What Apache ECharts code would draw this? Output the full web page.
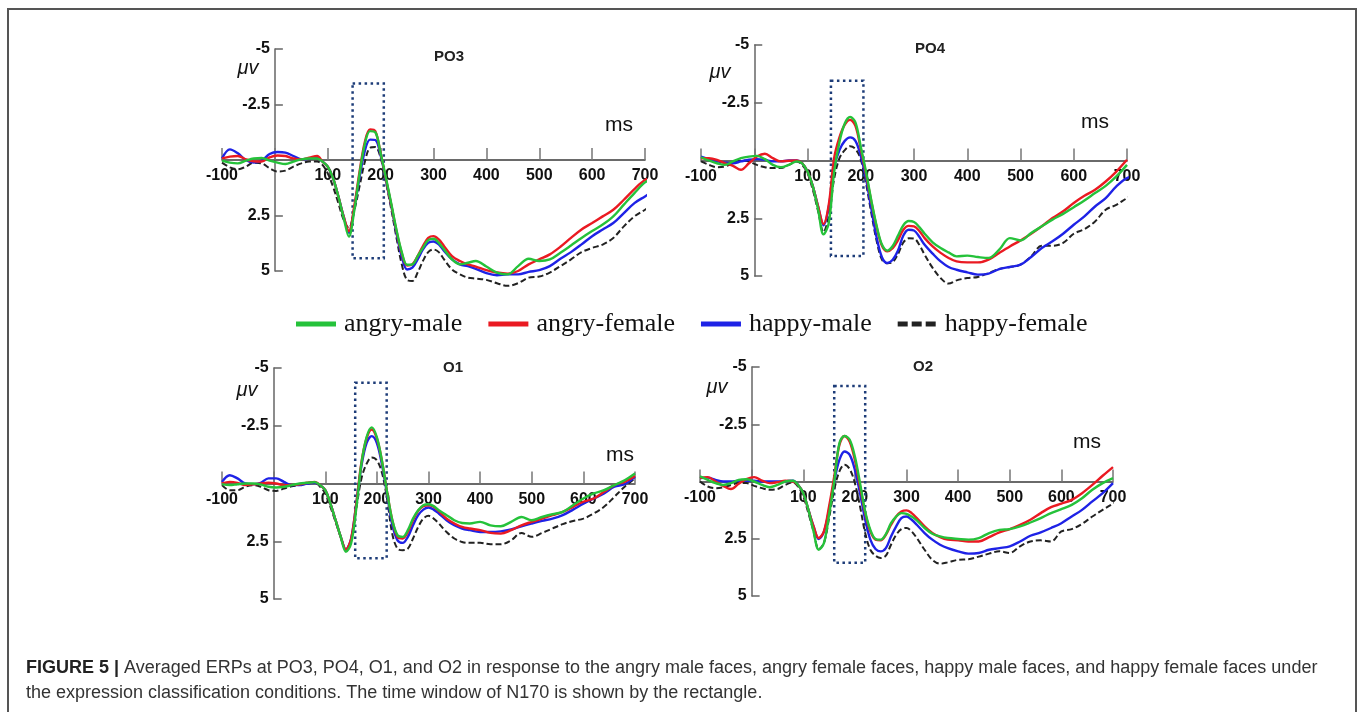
<!DOCTYPE html>
<html>
<head>
<meta charset="utf-8">
<title>Averaged ERPs</title>
<script src="https://cdn.jsdelivr.net/npm/echarts@6/dist/echarts.min.js"></script>
<style>
  html, body { margin: 0; padding: 0; background: #fff; }
  #main { width: 1358px; height: 712px; }
</style>
</head>
<body>
<div id="main"></div>
<script>
// sample times in ms (same for every channel)
const times = [-100, -85, -70, -55, -40, -25, -10, 5, 20, 35, 50, 65, 80,
  90, 100, 110, 120, 130, 140, 150, 160, 170, 180, 190, 200, 210, 220, 230, 240, 250, 260, 270, 280, 290, 300, 310, 320,
  335, 350, 365, 380,
  400, 420, 440, 460, 480, 500, 520, 540, 560, 580, 600, 620, 640, 660, 680, 700, 720];

// amplitudes in µV (negative is drawn up)
const po3Green = [0.03, 0.12, 0.15, 0.03, -0.07, -0.09, 0.03, 0.12, 0.18, 0.07, -0.03, -0.07, -0.07,
  0.07, 0.3, 0.82, 1.64, 2.6, 3.45, 2.3, 0.65, -0.7, -1.3, -1.25, -0.3, 0.8, 1.95, 3.15, 4.15, 4.72, 4.7, 4.33, 3.96, 3.61, 3.55, 3.73, 4.03,
  4.48, 4.7, 4.63, 4.55,
  4.8, 5.07, 5.15, 4.78, 4.45, 4.55, 4.48, 4.18, 3.85, 3.51, 3.2, 2.91, 2.54, 2.01, 1.49, 1.01, 0.75];
const po3Red = [-0.07, -0.15, -0.18, -0.03, 0.06, 0.07, -0.12, -0.2, -0.18, -0.07, -0.03, -0.1, -0.18,
  0.07, 0.3, 0.82, 1.64, 2.54, 3.2, 2.1, 0.55, -0.8, -1.38, -1.3, -0.3, 0.85, 2.0, 3.2, 4.2, 4.75, 4.7, 4.33, 3.88, 3.51, 3.43, 3.58, 3.88,
  4.33, 4.55, 4.7, 4.8,
  4.96, 5.07, 5.12, 5.0, 4.7, 4.48, 4.25, 3.91, 3.51, 3.13, 2.84, 2.54, 2.24, 1.79, 1.31, 0.9, 0.75];
const po3Blue = [-0.07, -0.48, -0.3, 0, 0.12, 0.03, -0.27, -0.36, -0.33, -0.18, -0.03, -0.06, -0.09,
  0.07, 0.3, 0.82, 1.64, 2.54, 3.28, 2.2, 0.8, -0.4, -0.92, -0.9, -0.2, 0.9, 2.05, 3.3, 4.35, 4.93, 4.85, 4.48, 4.03, 3.73, 3.67, 3.8, 4.1,
  4.48, 4.7, 4.78, 4.9,
  5.1, 5.19, 5.15, 5.15, 5.04, 4.96, 4.78, 4.45, 4.15, 3.8, 3.43, 3.13, 2.84, 2.39, 1.94, 1.64, 1.34];
const po3Black = [0.12, 0.33, 0.42, 0.3, 0.12, 0.15, 0.37, 0.52, 0.48, 0.3, 0.15, 0.07, 0.07,
  0.22, 0.6, 1.2, 1.94, 2.69, 3.06, 2.3, 1.2, 0.1, -0.55, -0.58, -0.1, 1.0, 2.2, 3.5, 4.7, 5.4, 5.45, 5.07, 4.55, 4.15, 4.03, 4.15, 4.48,
  4.93, 5.15, 5.3, 5.34,
  5.4, 5.55, 5.67, 5.55, 5.3, 5.25, 5.07, 4.78, 4.48, 4.15, 3.96, 3.81, 3.51, 2.99, 2.54, 2.24, 1.94];

const po4Green = [-0.14, 0, 0.12, 0.19, 0.04, -0.1, -0.17, -0.2, -0.06, 0.19, 0.29, 0.19, 0.04,
  0.12, 0.48, 1.12, 2.13, 3.2, 2.7, 0.5, -0.8, -1.6, -1.88, -1.65, -0.6, 0.5, 1.75, 2.85, 3.65, 3.9, 3.7, 3.25, 2.8, 2.62, 2.66, 2.88, 3.17,
  3.54, 3.79, 3.98, 4.15,
  4.12, 4.18, 4.22, 3.86, 3.36, 3.46, 3.14, 2.85, 2.56, 2.31, 2.02, 1.73, 1.41, 1.1, 0.69, 0.19, null];
const po4Red = [-0.1, -0.1, -0.03, 0.12, 0.23, 0.4, 0.12, -0.17, -0.29, -0.1, 0.04, 0.01, 0,
  0.12, 0.48, 1.12, 2.0, 2.75, 1.9, -0.1, -1.0, -1.55, -1.76, -1.5, -0.5, 0.6, 1.8, 2.9, 3.7, 3.93, 3.8, 3.45, 3.0, 2.83, 2.85, 3.05, 3.36,
  3.72, 4.0, 4.22, 4.37,
  4.41, 4.41, 4.29, 4.0, 3.72, 3.46, 3.17, 2.85, 2.49, 2.2, 1.84, 1.53, 1.27, 0.91, 0.48, -0.03, null];
const po4Blue = [-0.17, -0.06, 0.04, 0.09, 0.12, 0.04, -0.03, -0.06, -0.03, 0.04, 0.04, 0, 0,
  0.12, 0.48, 1.12, 2.0, 2.8, 2.0, 0.3, -0.45, -0.85, -1.0, -0.85, -0.2, 0.8, 2.1, 3.35, 4.2, 4.44, 4.3, 3.9, 3.25, 3.0, 3.03, 3.3, 3.65,
  4.03, 4.37, 4.61, 4.73,
  4.84, 4.94, 4.9, 4.7, 4.61, 4.51, 4.18, 3.79, 3.5, 3.17, 2.78, 2.42, 1.99, 1.63, 1.12, 0.76, 0.69];
const po4Black = [0.04, 0.19, 0.29, 0.26, 0.12, 0, 0.04, 0.19, 0.29, 0.33, 0.33, 0.19, 0.04,
  0.19, 0.55, 1.27, 2.2, 3.1, 2.4, 0.8, -0.1, -0.45, -0.62, -0.5, -0.05, 1.0, 2.3, 3.5, 4.3, 4.45, 4.4, 4.05, 3.55, 3.37, 3.38, 3.65, 4.08,
  4.65, 5.09, 5.33, 5.19,
  5.09, 5.04, 4.87, 4.7, 4.61, 4.51, 4.15, 3.69, 3.69, 3.57, 3.17, 2.97, 2.64, 2.13, 1.92, 1.63, 1.41];

const o1Green = [0.03, 0.07, 0.03, 0, 0, 0.04, 0.14, 0.17, 0.14, 0.07, 0, -0.03, -0.06,
  0.07, 0.29, 0.87, 1.59, 2.31, 2.96, 2.6, 1.1, -0.85, -2.0, -2.43, -2.0, -0.95, 0.4, 1.6, 2.24, 2.31, 2.02, 1.52, 1.16, 0.94, 0.9, 0.98, 1.16,
  1.37, 1.59, 1.71, 1.73,
  1.66, 1.81, 1.85, 1.66, 1.45, 1.59, 1.45, 1.33, 1.23, 0.94, 0.65, 0.43, 0.29, 0.07, -0.14, -0.43, null];
const o1Red = [0, -0.07, -0.03, 0.07, 0.04, 0, -0.03, 0, 0.07, 0.06, 0.03, -0.03, -0.07,
  0.07, 0.29, 0.87, 1.59, 2.31, 2.86, 2.4, 0.9, -0.9, -1.95, -2.34, -1.95, -0.95, 0.4, 1.6, 2.31, 2.38, 2.1, 1.59, 1.18, 0.98, 0.94, 1.01, 1.2,
  1.52, 1.73, 1.88, 1.95,
  2.02, 2.14, 2.17, 2.02, 1.81, 1.66, 1.52, 1.37, 1.23, 1.01, 0.79, 0.65, 0.36, 0.07, -0.07, -0.32, null];
const o1Blue = [-0.07, -0.36, -0.22, 0, 0.03, -0.03, -0.22, -0.22, -0.07, 0.07, 0.07, 0, -0.03,
  0.07, 0.29, 0.87, 1.59, 2.31, 2.86, 2.4, 0.9, -0.75, -1.75, -2.05, -1.75, -0.8, 0.5, 1.8, 2.46, 2.57, 2.31, 1.81, 1.37, 1.13, 1.04, 1.13, 1.3,
  1.59, 1.81, 1.95, 2.02,
  2.1, 2.1, 2.07, 1.99, 1.85, 1.73, 1.62, 1.52, 1.37, 1.13, 0.87, 0.65, 0.43, 0.14, 0.03, -0.29, null];
const o1Black = [0.07, 0.29, 0.29, 0.14, 0.07, 0.14, 0.29, 0.32, 0.22, 0.12, 0.07, 0, -0.03,
  0.14, 0.43, 1.01, 1.66, 2.31, 2.86, 2.45, 1.1, -0.2, -0.85, -1.13, -1.0, -0.45, 0.7, 2.2, 2.82, 2.89, 2.82, 2.38, 1.88, 1.52, 1.4, 1.52, 1.73,
  2.1, 2.38, 2.53, 2.57,
  2.57, 2.63, 2.63, 2.46, 2.14, 2.31, 2.14, 1.95, 1.76, 1.62, 1.52, 1.3, 1.01, 0.58, 0.14, -0.22, null];

const o2Green = [-0.22, -0.07, 0.07, 0.15, 0.07, -0.07, -0.1, 0, 0.15, 0.25, 0.15, 0, -0.03,
  0.15, 0.51, 1.24, 2.18, 2.98, 2.69, 1.45, 0, -1.67, -1.99, -1.82, -1.09, 0.07, 1.31, 2.11, 2.51, 2.54, 2.3, 1.82, 1.53, 1.38, 1.41, 1.53, 1.7,
  2.03, 2.28, 2.4, 2.47,
  2.51, 2.54, 2.47, 2.25, 2.11, 2.08, 1.96, 1.79, 1.6, 1.38, 1.21, 1.02, 0.73, 0.36, 0.07, -0.15, null];
const o2Red = [-0.15, -0.19, 0, 0.19, 0.33, 0.1, -0.1, -0.19, -0.04, 0.07, 0.03, -0.03, 0,
  0.15, 0.51, 1.24, 1.96, 2.47, 2.18, 1.09, -0.22, -1.6, -1.99, -1.74, -0.94, 0.22, 1.38, 2.18, 2.54, 2.57, 2.33, 1.89, 1.53, 1.31, 1.26, 1.38, 1.6,
  1.96, 2.25, 2.43, 2.54,
  2.57, 2.62, 2.62, 2.43, 2.22, 2.08, 1.89, 1.67, 1.38, 1.12, 0.97, 0.8, 0.51, 0.15, -0.25, -0.63, null];
const o2Blue = [-0.15, -0.17, -0.07, 0, 0, -0.03, -0.03, -0.03, 0, 0, 0, -0.01, -0.03,
  0.15, 0.51, 1.24, 1.96, 2.51, 2.2, 1.24, 0, -0.94, -1.31, -1.16, -0.51, 0.51, 1.67, 2.54, 2.95, 3.05, 2.91, 2.4, 1.96, 1.6, 1.53, 1.67, 1.89,
  2.25, 2.54, 2.76, 2.91,
  3.05, 3.15, 3.12, 2.98, 2.91, 2.83, 2.62, 2.37, 2.22, 2.03, 1.82, 1.53, 1.24, 0.87, 0.51, 0.07, null];
const o2Black = [0, 0.22, 0.29, 0.25, 0.15, 0.07, 0.07, 0.19, 0.29, 0.36, 0.33, 0.15, 0.04,
  0.22, 0.65, 1.38, 2.18, 2.95, 2.69, 1.6, 0.36, -0.44, -0.73, -0.54, 0.07, 1.09, 2.25, 2.98, 3.24, 3.34, 3.24, 2.76, 2.33, 2.08, 2.03, 2.18, 2.47,
  2.98, 3.42, 3.59, 3.53,
  3.42, 3.4, 3.28, 3.15, 3.05, 3.12, 2.83, 2.62, 2.57, 2.62, 2.18, 2.08, 1.85, 1.53, 1.24, 0.97, 0.77];

const channels = ['PO3', 'PO4', 'O1', 'O2'];
const conditions = ['angry-male', 'angry-female', 'happy-male', 'happy-female'];
const xTickLabels = [-100, 100, 200, 300, 400, 500, 600, 700];
const yTickLabels = [-5, -2.5, 2.5, 5];
// N170 window drawn as the dotted rectangle: [ms start, µV top, ms end, µV bottom]
const n170Boxes = [[147, -3.45, 206, 4.43], [144, -3.45, 205, 4.13], [158, -4.36, 219, 3.24], [160, -4.17, 220, 3.55]];

// per channel: [angry-male, angry-female, happy-male, happy-female]
const waves = [
  [po3Green, po3Red, po3Blue, po3Black],
  [po4Green, po4Red, po4Blue, po4Black],
  [o1Green, o1Red, o1Blue, o1Black],
  [o2Green, o2Red, o2Blue, o2Black]
];

const colors = ['#25c23a', '#ea1a22', '#1e22e6', '#222222'];

// layout of the four panels (pixels)
const grids = [
  {left: 222, top: 49, width: 423, height: 222},
  {left: 701, top: 45, width: 426, height: 231},
  {left: 222, top: 368, width: 413, height: 231},
  {left: 700, top: 367, width: 413, height: 229}
];
const titlePos = [[449, 57], [930, 49], [453, 368], [923, 367]];
const unitPos = [[248, 68], [720, 72], [247, 390], [717, 387]];
const msPos = [[619, 125], [1095, 122], [620, 455], [1087, 442]];

const tickFont = "'Liberation Sans', Arial, sans-serif";

const myChart = echarts.init(document.getElementById('main'));

let xAxes = [], yAxes = [], series = [], graphics = [];

grids.forEach(function (g, p) {
  // the time axis sits on 0 µV, the amplitude axis on 0 ms:
  // shift the axes into the grid with a negative offset
  xAxes.push({
    gridIndex: p,
    type: 'value',
    min: -100,
    max: 700,
    interval: 100,
    offset: -g.height / 2,
    splitLine: {show: false},
    axisLine: {onZero: false, lineStyle: {color: '#3a3a3a', width: 1.6}},
    axisTick: {inside: true, length: 12, lineStyle: {color: '#777', width: 1.5}},
    axisLabel: {
      margin: 8,
      color: '#111',
      fontFamily: tickFont,
      fontWeight: 'bold',
      fontSize: 16,
      formatter: function (v) { return xTickLabels.indexOf(v) >= 0 ? String(v) : ''; }
    }
  });
  yAxes.push({
    gridIndex: p,
    type: 'value',
    inverse: true,
    min: -5,
    max: 5,
    interval: 2.5,
    offset: -g.width / 8,
    splitLine: {show: false},
    axisLine: {onZero: false, lineStyle: {color: '#666', width: 1.5}},
    axisTick: {inside: true, length: 8, lineStyle: {color: '#666', width: 1.5}},
    axisLabel: {
      margin: 5,
      color: '#111',
      fontFamily: tickFont,
      fontWeight: 'bold',
      fontSize: 16,
      formatter: function (v) { return yTickLabels.indexOf(v) >= 0 ? String(v) : ''; }
    }
  });

  // draw order: happy-female first, angry-male last (on top)
  [3, 2, 1, 0].forEach(function (c) {
    const s = {
      name: conditions[c],
      type: 'line',
      xAxisIndex: p,
      yAxisIndex: p,
      data: times.map(function (t, i) { return [t, waves[p][c][i]]; }),
      smooth: 0.35,
      showSymbol: false,
      clip: false,
      silent: true,
      itemStyle: {color: colors[c]},
      lineStyle: {color: colors[c], width: c === 3 ? 2 : 2.4, type: c === 3 ? [6, 3] : 'solid'}
    };
    if (c === 3) {
      const b = n170Boxes[p];
      s.markArea = {
        silent: true,
        itemStyle: {color: 'rgba(0,0,0,0)', borderColor: '#1d3c78', borderWidth: 2.5, borderType: [2.5, 3.5]},
        data: [[{coord: [b[0], b[1]]}, {coord: [b[2], b[3]]}]]
      };
    }
    series.push(s);
  });

  graphics.push({
    type: 'text', x: titlePos[p][0], y: titlePos[p][1],
    style: {text: channels[p], align: 'center', verticalAlign: 'middle', fontFamily: 'Liberation Sans', fontWeight: 'bold', fontSize: 15, fill: '#222'}
  });
  graphics.push({
    type: 'text', x: unitPos[p][0], y: unitPos[p][1],
    style: {text: 'μv', align: 'center', verticalAlign: 'middle', fontFamily: 'Liberation Sans', fontStyle: 'italic', fontSize: 20, fill: '#111'}
  });
  graphics.push({
    type: 'text', x: msPos[p][0], y: msPos[p][1],
    style: {text: 'ms', align: 'center', verticalAlign: 'middle', fontFamily: 'Liberation Sans', fontSize: 21, fill: '#111'}
  });
});

// frame and caption
graphics.push({
  type: 'rect', silent: true,
  shape: {x: 8, y: 9, width: 1348, height: 720},
  style: {fill: 'none', stroke: '#555', lineWidth: 2}
});
graphics.push({
  type: 'text', x: 26, y: 668,
  style: {
    text: '{b|FIGURE 5 |} Averaged ERPs at PO3, PO4, O1, and O2 in response to the angry male faces, angry female faces, happy male faces, and happy female faces under',
    verticalAlign: 'middle', fontFamily: 'Liberation Sans', fontSize: 18, fill: '#333',
    rich: {b: {fontFamily: 'Liberation Sans', fontSize: 18, fontWeight: 'bold', fill: '#222'}}
  }
});
graphics.push({
  type: 'text', x: 26, y: 693,
  style: {
    text: 'the expression classification conditions. The time window of N170 is shown by the rectangle.',
    verticalAlign: 'middle', fontFamily: 'Liberation Sans', fontSize: 18, fill: '#333'
  }
});

let option = {
  animation: false,
  backgroundColor: '#fff',
  grid: grids,
  xAxis: xAxes,
  yAxis: yAxes,
  legend: {
    left: 296,
    top: 311,
    padding: 0,
    itemWidth: 40,
    itemHeight: 5,
    itemGap: 26,
    selectedMode: false,
    itemStyle: {borderWidth: 0},
    textStyle: {fontFamily: "'Liberation Serif', 'Times New Roman', serif", fontSize: 26, color: '#111', padding: [0, 0, 0, 3]},
    data: [
      {name: 'angry-male', icon: 'rect'},
      {name: 'angry-female', icon: 'rect'},
      {name: 'happy-male', icon: 'rect'},
      {name: 'happy-female', icon: 'path://M0,0h10v5h-10z M14,0h10v5h-10z M28,0h10v5h-10z'}
    ]
  },
  series: series,
  graphic: graphics
};
myChart.setOption(option);
</script>
</body>
</html>
